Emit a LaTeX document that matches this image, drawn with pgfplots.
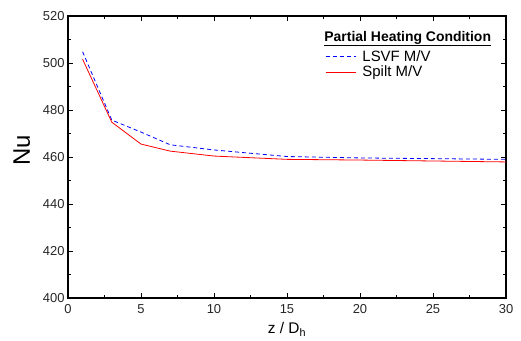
\documentclass[border=0pt]{standalone}
\usepackage{pgfplots}
\pgfplotsset{compat=1.18}
\usepackage{fontspec}
\setmainfont{Liberation Sans}
\begin{document}
\begin{tikzpicture}
\begin{axis}[
  name=ax,
  scale only axis,
  width=438bp, height=282bp,
  xmin=0, xmax=30, ymin=400, ymax=520,
  xtick={0,5,...,30}, ytick={400,420,...,520},
  minor x tick num=1, minor y tick num=1,
  tick align=inside,
  major tick length=5bp, minor tick length=3bp,
  axis line style={line width=1.2bp},
  every tick/.style={black, line width=0.9bp},
  /pgf/number format/assume math mode=true,
  ticklabel style={font=\fontsize{13}{14}\selectfont, text=black!85},
  xticklabel style={yshift=-3bp},
  xlabel={z / D\textsubscript{h}},
  ylabel={Nu},
  xlabel style={font=\fontsize{15.5}{17}\selectfont, yshift=-2bp},
  ylabel style={font=\fontsize{24}{26}\selectfont, yshift=6bp, xshift=7bp},
  legend style={at={(axis cs:17.6,506)}, anchor=north west, draw=none, fill=none,
    font=\fontsize{15}{15}\selectfont, row sep=0bp, column sep=5bp, inner sep=0pt,
    nodes={inner sep=1.5bp}},
  legend cell align=left,
  legend image code/.code={\draw[#1] plot coordinates {(0bp,0bp) (15bp,0bp) (30bp,0bp)};},
]
\addplot[blue, dash pattern=on 4bp off 3bp, line width=0.8bp] coordinates {
 (1,504.8) (3,475.7) (5,470.6) (7,465.2) (10,463.0) (15,460.2) (20,459.6) (25,459.3) (30,459.0)
};
\addlegendentry{LSVF M/V}
\addplot[red, line width=0.8bp] coordinates {
 (1,501.6) (3,474.8) (5,465.5) (7,462.5) (10,460.4) (15,459.0) (20,458.7) (25,458.3) (30,457.9)
};
\addlegendentry{Spilt M/V}
\node[anchor=west, font=\fontsize{14}{15}\selectfont\bfseries, inner sep=0pt] at (axis cs:17.55,510.4) {\underline{Partial Heating Condition}};
\end{axis}
\pgfresetboundingbox
\path ([xshift=-68bp,yshift=-43bp]ax.south west) rectangle ([xshift=15bp,yshift=16bp]ax.north east);
\end{tikzpicture}
\end{document}
